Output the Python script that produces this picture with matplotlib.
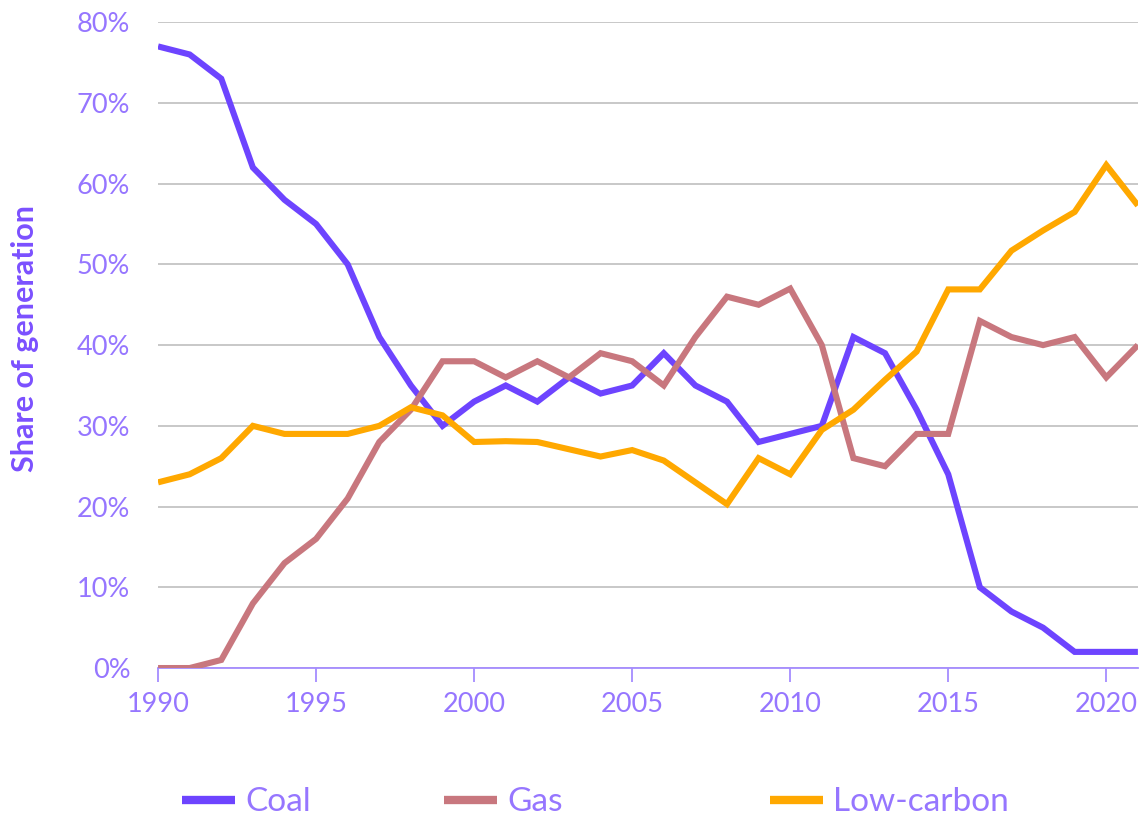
import numpy as np
import matplotlib
matplotlib.use("Agg")
import matplotlib.pyplot as plt
from matplotlib.ticker import FuncFormatter
from matplotlib.lines import Line2D

years = list(range(1990, 2022))

coal = [77, 76, 73, 62, 58, 55, 50, 41, 35, 30, 33, 35, 33, 36, 34, 35,
        39, 35, 33, 28, 29, 30, 41, 39, 32, 24, 10, 7, 5, 2, 2, 2]
gas = [0, 0, 1, 8, 13, 16, 21, 28, 32, 38, 38, 36, 38, 36, 39, 38,
       35, 41, 46, 45, 47, 40, 26, 25, 29, 29, 43, 41, 40, 41, 36, 40]
low_carbon = [23, 24, 26, 30, 29, 29, 29, 30, 32.3, 31.3, 28, 28.1, 28, 27.1, 26.2, 27,
              25.7, 23, 20.3, 26, 24, 29.5, 32, 35.7, 39.2, 46.9, 46.9, 51.7, 54.2, 56.5, 62.3, 57.3]

SERIES = ["Coal", "Gas", "Low-carbon"]
COLORS = ["#6D44FF", "#C8777E", "#FFA800"]

TXT = "#9676FF"
AXIS = "#A58CFF"

plt.rcParams["font.family"] = ["Lato", "DejaVu Sans"]

W, H = 1142, 822
fig = plt.figure(figsize=(W / 100, H / 100), dpi=100)
ax = fig.add_axes([0.1384, 0.1873, 0.858, 0.7857])

for vals, col, name in zip([coal, gas, low_carbon], COLORS, SERIES):
    ax.plot(years, vals, color=col, lw=4.4, label=name, solid_joinstyle="miter",
            solid_capstyle="butt", zorder=3)

ax.set_xlim(1990, 2021)
ax.set_ylim(0, 80)
ax.set_yticks(np.arange(0, 81, 10))
ax.yaxis.set_major_formatter(FuncFormatter(lambda v, p: f"{v:.0f}%"))
ax.set_xticks(range(1990, 2021, 5))

ax.grid(axis="y", color="#C4C4C4", lw=1.3, zorder=0)
for s in ["top", "right", "left"]:
    ax.spines[s].set_visible(False)
ax.spines["bottom"].set_color(AXIS)
ax.spines["bottom"].set_linewidth(1.3)
ax.spines["bottom"].set_zorder(2)

ax.tick_params(axis="y", length=0, pad=20, labelsize=19.5, labelcolor=TXT)
ax.tick_params(axis="x", length=10, width=1.3, color=AXIS, direction="out",
               pad=7, labelsize=19.5, labelcolor=TXT)

fig.text(0.022, 0.588, "Share of generation", rotation=90, ha="center", va="center",
         fontsize=22, fontweight="bold", color="#7B50FF")

# legend entries placed like the original (fixed column slots)
slots = [182, 444, 770]
for name, col, x0 in zip(SERIES, COLORS, slots):
    h = Line2D([], [], color=col, lw=6, solid_capstyle="butt")
    leg = fig.legend([h], [name], loc="center left", bbox_to_anchor=(x0 / W, 0.024),
                     frameon=False, fontsize=24, handlelength=1.6, handletextpad=0.3,
                     borderpad=0, borderaxespad=0)
    for t in leg.get_texts():
        t.set_color(TXT)

fig.savefig("out.png", dpi=100, facecolor="white")
